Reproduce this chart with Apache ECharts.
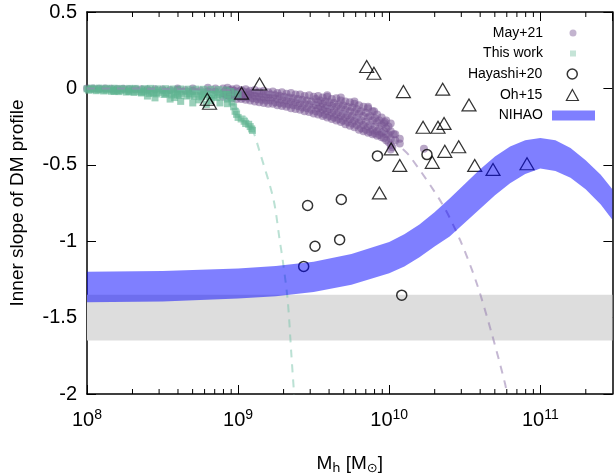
<!DOCTYPE html>
<html><head><meta charset="utf-8">
<script src="https://cdn.jsdelivr.net/npm/echarts@6/dist/echarts.min.js"></script>
<style>html,body{margin:0;padding:0;background:#fff}#c{width:614px;height:473px}</style>
</head><body><div id="c"></div>
<script>
// ---------- data (x values stored as log10(Mh / Msun)) ----------
const xMin = 1e8, xMax = 3e11, yMin = -2, yMax = 0.5, yStep = 0.5;
const xTickExponents = [8, 9, 10, 11];
const yTickLabels = ['-2', '-1.5', '-1', '-0.5', '0', '0.5'];
const minorMultipliers = [2, 3, 4, 5, 6, 7, 8, 9];

// grey band
const greyBand = [-1.65, -1.35];

// NIHAO band edges
const nihaoLogM  = [8.0, 8.5, 9.0, 9.25, 9.5, 9.75, 10.0, 10.1, 10.2, 10.3, 10.4, 10.5, 10.6, 10.7, 10.8, 10.9, 11.0, 11.1, 11.2, 11.3, 11.4, 11.477];
const nihaoUpper = [-1.20, -1.195, -1.178, -1.163, -1.135, -1.083, -1.005, -0.955, -0.89, -0.81, -0.72, -0.625, -0.53, -0.445, -0.38, -0.34, -0.325, -0.34, -0.39, -0.47, -0.565, -0.66];
const nihaoLower = [-1.40, -1.395, -1.375, -1.36, -1.333, -1.285, -1.21, -1.165, -1.105, -1.035, -0.97, -0.88, -0.79, -0.70, -0.62, -0.56, -0.525, -0.54, -0.585, -0.66, -0.76, -0.86];

// Oh+15
const ohLogM  = [8.796, 8.811, 9.023, 9.142, 9.851, 9.899, 10.094, 10.354, 10.528, 10.224, 10.323, 10.363, 10.013, 10.070, 10.285, 10.368, 10.460, 10.566, 10.687, 10.912, 9.935];
const ohSlope = [-0.071, -0.097, -0.031, 0.029, 0.143, 0.099, -0.021, -0.005, -0.108, -0.254, -0.254, -0.229, -0.396, -0.504, -0.484, -0.412, -0.382, -0.504, -0.530, -0.493, -0.684];

// Hayashi+20
const hayLogM  = [9.922, 10.250, 9.460, 9.683, 9.509, 9.672, 9.434, 10.083];
const haySlope = [-0.442, -0.433, -0.766, -0.727, -1.033, -0.990, -1.165, -1.353];

// May+21 [log Mh, slope]
const may21 = [
 [8.00,0.000],[8.04,0.000],[8.08,-0.002],[8.12,0.000],[8.16,-0.003],[8.20,-0.004],[8.24,-0.003],[8.28,-0.005],[8.32,-0.006],[8.36,-0.005],[8.40,-0.007],
 [8.45,-0.006],[8.50,-0.008],[8.55,-0.010],[8.60,-0.009],[8.65,-0.012],[8.70,-0.015],[8.75,-0.013],[8.80,-0.018],[8.85,-0.020],[8.60,0.000],[8.70,0.000],[8.80,0.005],[8.85,0.000],
 [8.90,0.000],[8.90,-0.030],[8.90,-0.055],[8.93,0.005],[8.93,-0.025],[8.93,-0.060],[8.96,-0.005],[8.96,-0.035],[8.96,-0.065],
 [8.99,0.000],[8.99,-0.030],[8.99,-0.070],[9.02,-0.010],[9.02,-0.040],[9.02,-0.070],[9.05,-0.005],[9.05,-0.045],[9.05,-0.075],
 [9.08,-0.015],[9.08,-0.040],[9.08,-0.080],[9.11,-0.010],[9.11,-0.050],[9.11,-0.085],[9.14,-0.020],[9.14,-0.055],[9.14,-0.090],
 [9.17,-0.015],[9.17,-0.060],[9.17,-0.095],[9.20,-0.025],[9.20,-0.060],[9.20,-0.100],
 [8.915,-0.015],[8.915,-0.045],[8.945,-0.010],[8.945,-0.045],[8.975,-0.015],[8.975,-0.050],[9.005,-0.020],[9.005,-0.055],[9.035,-0.020],[9.035,-0.060],
 [9.065,-0.025],[9.065,-0.060],[9.095,-0.030],[9.095,-0.065],[9.125,-0.030],[9.125,-0.070],[9.155,-0.035],[9.155,-0.075],[9.185,-0.040],[9.185,-0.080],
 [9.23,-0.020],[9.23,-0.060],[9.23,-0.100],[9.26,-0.030],[9.26,-0.070],[9.26,-0.110],[9.29,-0.025],[9.29,-0.075],[9.29,-0.115],
 [9.32,-0.035],[9.32,-0.080],[9.32,-0.120],[9.35,-0.030],[9.35,-0.085],[9.35,-0.130],[9.38,-0.040],[9.38,-0.090],[9.38,-0.135],
 [9.41,-0.040],[9.41,-0.095],[9.41,-0.140],[9.44,-0.050],[9.44,-0.100],[9.44,-0.150],[9.47,-0.045],[9.47,-0.105],[9.47,-0.155],
 [9.50,-0.055],[9.50,-0.110],[9.50,-0.165],
 [9.215,-0.040],[9.215,-0.080],[9.245,-0.045],[9.245,-0.090],[9.275,-0.050],[9.275,-0.095],[9.305,-0.055],[9.305,-0.100],[9.335,-0.060],[9.335,-0.105],
 [9.365,-0.065],[9.365,-0.110],[9.395,-0.070],[9.395,-0.115],[9.425,-0.075],[9.425,-0.125],[9.455,-0.080],[9.455,-0.130],[9.485,-0.085],[9.485,-0.140],
 [9.53,-0.050],[9.53,-0.090],[9.53,-0.130],[9.53,-0.170],[9.56,-0.060],[9.56,-0.100],[9.56,-0.140],[9.56,-0.180],
 [9.59,-0.055],[9.59,-0.110],[9.59,-0.150],[9.59,-0.190],[9.62,-0.070],[9.62,-0.115],[9.62,-0.160],[9.62,-0.200],
 [9.65,-0.065],[9.65,-0.120],[9.65,-0.170],[9.65,-0.210],[9.68,-0.080],[9.68,-0.130],[9.68,-0.180],[9.68,-0.220],
 [9.71,-0.085],[9.71,-0.140],[9.71,-0.190],[9.71,-0.235],[9.74,-0.090],[9.74,-0.150],[9.74,-0.200],[9.74,-0.245],
 [9.77,-0.100],[9.77,-0.155],[9.77,-0.210],[9.77,-0.255],[9.80,-0.110],[9.80,-0.165],[9.80,-0.220],[9.80,-0.270],
 [9.515,-0.070],[9.515,-0.110],[9.515,-0.150],[9.545,-0.080],[9.545,-0.120],[9.545,-0.160],[9.575,-0.085],[9.575,-0.130],[9.575,-0.170],
 [9.605,-0.090],[9.605,-0.135],[9.605,-0.180],[9.635,-0.095],[9.635,-0.145],[9.635,-0.190],[9.665,-0.105],[9.665,-0.155],[9.665,-0.200],
 [9.695,-0.110],[9.695,-0.165],[9.695,-0.210],[9.725,-0.120],[9.725,-0.175],[9.725,-0.220],[9.755,-0.125],[9.755,-0.180],[9.755,-0.230],
 [9.785,-0.135],[9.785,-0.190],[9.785,-0.240],
 [9.83,-0.120],[9.83,-0.180],[9.83,-0.240],[9.83,-0.280],[9.86,-0.130],[9.86,-0.190],[9.86,-0.250],[9.86,-0.290],
 [9.89,-0.150],[9.89,-0.210],[9.89,-0.270],[9.89,-0.300],[9.92,-0.170],[9.92,-0.220],[9.92,-0.280],[9.92,-0.310],
 [9.95,-0.190],[9.95,-0.240],[9.95,-0.290],[9.95,-0.320],[9.98,-0.210],[9.98,-0.260],[9.98,-0.300],[9.98,-0.340],
 [10.01,-0.230],[10.01,-0.280],[10.01,-0.330],[10.01,-0.370],
 [9.815,-0.150],[9.815,-0.210],[9.815,-0.260],[9.845,-0.160],[9.845,-0.220],[9.845,-0.270],[9.875,-0.180],[9.875,-0.240],[9.875,-0.285],
 [9.905,-0.195],[9.905,-0.250],[9.905,-0.295],[9.935,-0.210],[9.935,-0.265],[9.935,-0.305],[9.965,-0.230],[9.965,-0.280],[9.965,-0.325],
 [9.995,-0.250],[9.995,-0.300],[9.995,-0.350],
 [10.04,-0.300],[10.04,-0.340],[10.07,-0.330],[10.07,-0.360],[10.01,-0.400],[10.02,-0.385],[10.23,-0.395],
 [9.59,-0.045],[9.68,-0.060],[9.77,-0.085],[9.86,-0.120],[9.90,-0.150],[9.97,-0.220],[10.03,-0.300]
];

// This work [log Mh, slope]
const thisWork = [
 [8.00,-0.003],[8.05,-0.004],[8.10,-0.005],[8.15,-0.006],[8.20,-0.006],[8.25,-0.008],[8.30,-0.009],[8.35,-0.010],[8.40,-0.012],[8.45,-0.013],
 [8.50,-0.015],[8.55,-0.016],[8.60,-0.018],[8.65,-0.020],[8.70,-0.022],[8.75,-0.024],[8.80,-0.026],[8.85,-0.028],[8.90,-0.030],
 [8.025,-0.008],[8.075,-0.010],[8.125,-0.012],[8.175,-0.013],[8.225,-0.015],[8.275,-0.018],[8.325,-0.020],[8.375,-0.022],[8.425,-0.024],
 [8.475,-0.026],[8.525,-0.028],[8.575,-0.030],[8.625,-0.032],[8.675,-0.034],[8.725,-0.036],[8.775,-0.038],[8.825,-0.040],[8.875,-0.040],
 [8.01,-0.012],[8.06,-0.015],[8.11,-0.017],[8.16,-0.019],[8.21,-0.021],[8.26,-0.024],[8.31,-0.027],[8.36,-0.030],[8.41,-0.033],
 [8.46,-0.036],[8.51,-0.040],[8.56,-0.043],[8.61,-0.046],[8.66,-0.050],[8.71,-0.053],[8.76,-0.056],[8.81,-0.058],[8.86,-0.060],
 [8.03,0.002],[8.08,0.002],[8.13,0.001],[8.18,0.001],[8.23,0.000],[8.28,0.000],[8.38,-0.002],[8.47,-0.003],[8.57,-0.004],[8.67,-0.005],[8.77,-0.006],[8.87,-0.008],
 [8.32,0.000],[8.42,0.000],[8.52,-0.002],[8.62,-0.004],[8.72,-0.005],[8.82,-0.006],
 [8.20,-0.015],[8.28,-0.020],[8.36,-0.025],[8.44,-0.030],[8.52,-0.035],[8.60,-0.040],[8.68,-0.045],[8.76,-0.050],[8.84,-0.050],[8.90,-0.045],
 [8.18,-0.020],[8.40,-0.050],[8.45,-0.062],[8.55,-0.070],[8.62,-0.085],[8.70,-0.095],[8.79,-0.105],[8.88,-0.095],[8.58,-0.060],[8.74,-0.075],[8.82,-0.080],
 [8.92,-0.010],[8.95,-0.020],[8.98,-0.030],[9.00,-0.040],
 [8.93,-0.040],[8.93,-0.070],[8.93,-0.100],[8.95,-0.060],[8.96,-0.090],[8.97,-0.120],[8.98,-0.150],[8.99,-0.170],[9.00,-0.190],
 [9.02,-0.200],[9.04,-0.215],[9.05,-0.230],[9.07,-0.235],[9.08,-0.250],[9.09,-0.265],[9.095,-0.275]
];

// dashed model curves [log Mh, slope]
const greenCurve = [[8.0,0],[8.42,-0.003],[8.75,-0.02],[8.917,-0.075],[9.017,-0.154],[9.083,-0.239],[9.149,-0.435],[9.235,-0.73],[9.275,-0.992],[9.295,-1.122],[9.328,-1.384],[9.354,-1.764],[9.371,-2.006]];
const purpleCurve = [[8.0,0],[9.083,-0.016],[9.414,-0.075],[9.745,-0.173],[9.977,-0.291],[10.072,-0.381],[10.138,-0.446],[10.348,-0.751],[10.469,-0.992],[10.579,-1.275],[10.678,-1.602],[10.766,-1.929],[10.781,-2.006]];

// ---------- chart ----------
const FONT = 'Liberation Sans, Arial, Helvetica, sans-serif';
const toM = p => [Math.pow(10, p[0]), p[1]];
const minorTicks = [];
xTickExponents.forEach(e => minorMultipliers.forEach(m => { const v = m * Math.pow(10, e); if (v < xMax) minorTicks.push([v, 0]); }));

const chart = echarts.init(document.getElementById('c'), null, {renderer: 'canvas'});
const axisLine = {show: true, onZero: false, lineStyle: {color: '#000', width: 1.5}};
const majorTick = {show: true, inside: true, length: 9, lineStyle: {color: '#000', width: 1}};

function legendItem(name, icon, w, h, right, top, padRight, itemStyle) {
  return {orient: 'horizontal', align: 'right', right: right, top: top, padding: 0,
    itemWidth: w, itemHeight: h, selectedMode: false, itemStyle: itemStyle,
    textStyle: {fontFamily: FONT, fontSize: 14, color: '#000', padding: [0, padRight, 0, 0]},
    data: [{name: name, icon: icon}]};
}

chart.setOption({
  animation: false,
  backgroundColor: '#fff',
  grid: {left: 87, right: 1.6, top: 12, bottom: 79, containLabel: false, outerBoundsMode: 'none'},
  legend: [
    legendItem('May+21', 'circle', 7, 7, 37.5, 26, 21.5, {color: 'rgba(118,84,146,0.55)'}),
    legendItem('This work', 'rect', 6, 6, 38, 46.5, 22, {color: 'rgba(95,180,145,0.45)'}),
    legendItem('Hayashi+20', 'circle', 10, 10, 36, 67, 20, {color: 'rgba(0,0,0,0)', borderColor: '#000', borderWidth: 1.5}),
    legendItem('Oh+15', 'triangle', 12, 11, 35, 88, 19, {color: 'rgba(0,0,0,0)', borderColor: '#000', borderWidth: 1.2}),
    legendItem('NIHAO', 'rect', 43, 10, 19, 108.5, 4, {color: 'rgba(0,0,255,0.5)'})
  ],
  xAxis: [{
    type: 'log', logBase: 10, min: xMin, max: xMax, position: 'bottom',
    axisLine: axisLine, axisTick: majorTick, splitLine: {show: false}, minorTick: {show: false},
    axisLabel: {
      margin: 14, showMaxLabel: false, color: '#000', fontFamily: FONT, fontSize: 20,
      formatter: v => { const e = Math.round(Math.log10(v)); return xTickExponents.indexOf(e) >= 0 ? '{b|10}{s|' + e + '}' : ''; },
      rich: {b: {fontFamily: FONT, fontSize: 20, color: '#000'}, s: {fontFamily: FONT, fontSize: 14, color: '#000', verticalAlign: 'bottom', padding: [0, 0, 11, 0]}}
    },
    name: 'M{sub|h} [M{sub|⊙}]', nameLocation: 'middle', nameGap: 58,
    nameTextStyle: {fontFamily: FONT, fontSize: 19, color: '#000', rich: {sub: {fontFamily: 'DejaVu Sans', fontSize: 13, color: '#000', verticalAlign: 'top', padding: [10, 0, 0, 0]}}}
  }, {
    type: 'log', logBase: 10, min: xMin, max: xMax, position: 'top',
    axisLine: axisLine, axisTick: majorTick, axisLabel: {show: false}, splitLine: {show: false}
  }],
  yAxis: [{
    type: 'value', min: yMin, max: yMax, interval: yStep, position: 'left',
    axisLine: axisLine, axisTick: majorTick, splitLine: {show: false},
    axisLabel: {margin: 10, color: '#000', fontFamily: FONT, fontSize: 20,
      formatter: v => yTickLabels[Math.round((v - yMin) / yStep)]},
    name: 'Inner slope of DM profile', nameLocation: 'middle', nameGap: 60, nameRotate: 90,
    nameTextStyle: {fontFamily: FONT, fontSize: 19, color: '#000'}
  }, {
    type: 'value', min: yMin, max: yMax, interval: yStep, position: 'right',
    axisLine: axisLine, axisTick: majorTick, axisLabel: {show: false}, splitLine: {show: false}
  }],
  series: [
    { // grey band
      type: 'custom', z: 1, silent: true, clip: true,
      data: [[xMin, greyBand[1], greyBand[0]]],
      renderItem: (params, api) => {
        const a = api.coord([xMin, greyBand[1]]), b = api.coord([xMax, greyBand[0]]);
        return {type: 'rect', shape: {x: a[0], y: a[1], width: b[0] - a[0], height: b[1] - a[1]}, style: {fill: '#dddddd'}};
      }
    },
    {
      name: 'May+21', type: 'scatter', z: 2, symbol: 'circle', symbolSize: 8,
      itemStyle: {color: 'rgba(118,84,146,0.65)'}, data: may21.map(toM)
    },
    {
      name: 'This work', type: 'scatter', z: 3, symbol: 'rect', symbolSize: 7,
      itemStyle: {color: 'rgba(95,180,145,0.78)'}, data: thisWork.map(toM)
    },
    {
      type: 'line', z: 4, showSymbol: false, symbol: 'none', smooth: 0.3, silent: true,
      lineStyle: {color: 'rgba(120,195,170,0.5)', width: 2, type: [8, 7]}, data: greenCurve.map(toM)
    },
    {
      type: 'line', z: 4, showSymbol: false, symbol: 'none', smooth: 0.3, silent: true,
      lineStyle: {color: 'rgba(150,125,175,0.55)', width: 2, type: [8, 7]}, data: purpleCurve.map(toM)
    },
    {
      name: 'Hayashi+20', type: 'scatter', z: 5, symbol: 'circle', symbolSize: 10,
      itemStyle: {color: 'rgba(0,0,0,0)', borderColor: '#000', borderWidth: 1.5},
      data: hayLogM.map((l, i) => [Math.pow(10, l), haySlope[i]])
    },
    {
      name: 'Oh+15', type: 'scatter', z: 6, symbol: 'triangle', symbolSize: [14, 12],
      itemStyle: {color: 'rgba(0,0,0,0)', borderColor: '#000', borderWidth: 1.2},
      data: ohLogM.map((l, i) => [Math.pow(10, l), ohSlope[i]])
    },
    {
      name: 'NIHAO', type: 'custom', z: 7, silent: true, clip: true,
      itemStyle: {color: 'rgba(0,0,255,0.5)'},
      data: nihaoLogM.map((l, i) => [Math.pow(10, l), nihaoUpper[i], nihaoLower[i]]),
      encode: {x: 0, y: [1, 2]},
      renderItem: (params, api) => {
        if (params.dataIndex !== 0) return null;
        const up = nihaoLogM.map((l, i) => api.coord([Math.pow(10, l), nihaoUpper[i]]));
        const lo = nihaoLogM.map((l, i) => api.coord([Math.pow(10, l), nihaoLower[i]])).reverse();
        return {type: 'polygon', shape: {points: up.concat(lo)}, style: {fill: 'rgba(0,0,255,0.5)'}};
      }
    },
    { // minor log ticks on bottom and top axes
      type: 'custom', z: 8, silent: true, data: minorTicks,
      renderItem: (params, api) => {
        const x = api.coord([api.value(0), 0])[0];
        const cs = params.coordSys;
        return {type: 'group', children: [
          {type: 'line', shape: {x1: x, y1: cs.y + cs.height, x2: x, y2: cs.y + cs.height - 5}, style: {stroke: '#000', lineWidth: 1}},
          {type: 'line', shape: {x1: x, y1: cs.y, x2: x, y2: cs.y + 5}, style: {stroke: '#000', lineWidth: 1}}
        ]};
      }
    }
  ]
});
</script>
</body></html>
